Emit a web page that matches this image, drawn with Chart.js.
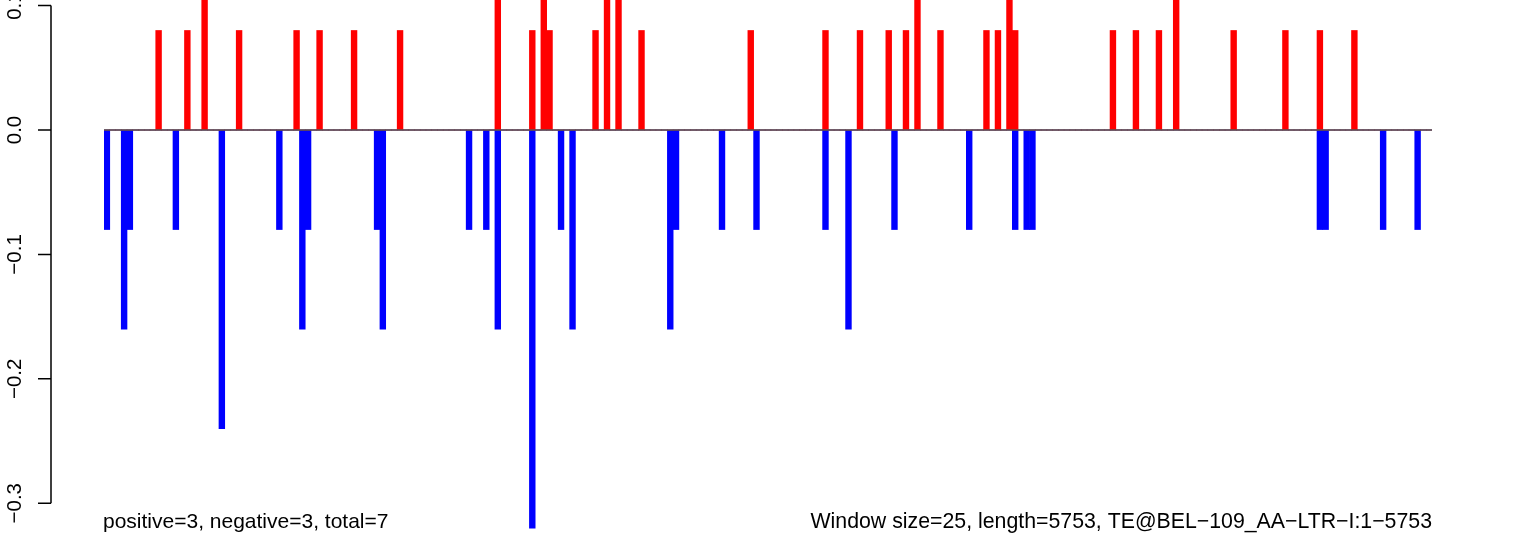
<!DOCTYPE html>
<html>
<head>
<meta charset="utf-8">
<script src="https://cdn.jsdelivr.net/npm/chart.js@4.4.1/dist/chart.umd.min.js"></script>
<style>
html,body{margin:0;padding:0;background:#fff;}
canvas{display:block;}
</style>
</head>
<body>
<canvas id="c" width="1536" height="550"></canvas>
<script>
// ---- data (231 windows of size 25 over length 5753) ----
const windowSize = 25;
const seqLength = 5753;
const windowCount = 231;
const windowLabels = Array.from({length: windowCount}, (_, i) => String(i * windowSize + 1));

// positive scores per window (red)
const positiveValues = [
0,0,0,0,0,0,0,0,0,0.08, 0,0,0,0,0.08,0,0,0.16,0,0, 0,0,0,0.08,0,0,0,0,0,0,
0,0,0,0.08,0,0,0,0.08,0,0, 0,0,0,0.08,0,0,0,0,0,0, 0,0.08,0,0,0,0,0,0,0,0,
0,0,0,0,0,0,0,0,0.16,0, 0,0,0,0,0.08,0,0.16,0.08,0,0, 0,0,0,0,0,0.08,0,0.16,0,0.16,
0,0,0,0.08,0,0,0,0,0,0, 0,0,0,0,0,0,0,0,0,0, 0,0,0.08,0,0,0,0,0,0,0,
0,0,0,0,0,0.08,0,0,0,0, 0,0.08,0,0,0,0,0.08,0,0,0.08, 0,0.16,0,0,0,0.08,0,0,0,0,
0,0,0,0.08,0,0.08,0,0.16,0.08,0, 0,0,0,0,0,0,0,0,0,0, 0,0,0,0,0,0.08,0,0,0,0.08,
0,0,0,0.08,0,0,0.16,0,0,0, 0,0,0,0,0,0,0.08,0,0,0, 0,0,0,0,0,0.08,0,0,0,0,
0,0.08,0,0,0,0,0,0.08,0,0, 0,0,0,0,0,0,0,0,0,0, 0
];

// negative scores per window (blue)
const negativeValues = [
-0.08,0,0,-0.16,-0.08,0,0,0,0,0, 0,0,-0.08,0,0,0,0,0,0,0, -0.24,0,0,0,0,0,0,0,0,0,
-0.08,0,0,0,-0.16,-0.08,0,0,0,0, 0,0,0,0,0,0,0,-0.08,-0.16,0, 0,0,0,0,0,0,0,0,0,0,
0,0,0,-0.08,0,0,-0.08,0,-0.16,0, 0,0,0,0,-0.32,0,0,0,0,-0.08, 0,-0.16,0,0,0,0,0,0,0,0,
0,0,0,0,0,0,0,0,-0.16,-0.08, 0,0,0,0,0,0,0,-0.08,0,0, 0,0,0,-0.08,0,0,0,0,0,0,
0,0,0,0,0,-0.08,0,0,0,-0.16, 0,0,0,0,0,0,0,-0.08,0,0, 0,0,0,0,0,0,0,0,0,0,
-0.08,0,0,0,0,0,0,0,-0.08,0, -0.08,-0.08,0,0,0,0,0,0,0,0, 0,0,0,0,0,0,0,0,0,0,
0,0,0,0,0,0,0,0,0,0, 0,0,0,0,0,0,0,0,0,0, 0,0,0,0,0,0,0,0,0,0,
0,-0.08,-0.08,0,0,0,0,0,0,0, 0,0,-0.08,0,0,0,0,0,-0.08,0, 0,0,0
];

const yTickValues = [0.1, 0.0, -0.1, -0.2, -0.3];
const yTickLabels = ['0.1', '0.0', '\u22120.1', '\u22120.2', '\u22120.3'];

const countText = 'positive=3, negative=3, total=7';
const infoText = 'Window size=25, length=5753, TE@BEL\u2212109_AA\u2212LTR\u2212I:1\u22125753';

const FONT = '"Liberation Sans", Arial, Helvetica, sans-serif';

const decorPlugin = {
  id: 'decor',
  afterDatasetsDraw(chart) {
    const ctx = chart.ctx;
    const y = chart.scales.y;
    const area = chart.chartArea;
    ctx.save();
    // zero reference line
    const y0 = y.getPixelForValue(0);
    ctx.strokeStyle = '#555555';
    ctx.lineWidth = 1.5;
    ctx.beginPath();
    ctx.moveTo(area.left, y0);
    ctx.lineTo(area.right, y0);
    ctx.stroke();

    // detached R-style y axis
    const axisX = 51;
    const tickLen = 13;
    const yTop = y.getPixelForValue(yTickValues[0]);
    const yBot = y.getPixelForValue(yTickValues[yTickValues.length - 1]);
    ctx.strokeStyle = '#000';
    ctx.lineWidth = 1.5;
    ctx.beginPath();
    ctx.moveTo(axisX, yTop);
    ctx.lineTo(axisX, yBot);
    yTickValues.forEach(v => {
      const py = y.getPixelForValue(v);
      ctx.moveTo(axisX, py);
      ctx.lineTo(axisX - tickLen, py);
    });
    ctx.stroke();

    ctx.fillStyle = '#000';
    ctx.font = '20.5px ' + FONT;
    ctx.textAlign = 'center';
    ctx.textBaseline = 'alphabetic';
    yTickValues.forEach((v, i) => {
      const py = y.getPixelForValue(v);
      ctx.save();
      ctx.translate(21, py);
      ctx.rotate(-Math.PI / 2);
      ctx.fillText(yTickLabels[i], 0, 0);
      ctx.restore();
    });

    // bottom annotations
    ctx.font = '21px ' + FONT;
    ctx.textAlign = 'left';
    ctx.fillText(countText, 103, 528);
    ctx.font = '21.3px ' + FONT;
    ctx.textAlign = 'right';
    ctx.fillText(infoText, area.right, 528);
    ctx.restore();
  }
};

new Chart(document.getElementById('c'), {
  type: 'bar',
  data: {
    labels: windowLabels,
    datasets: [
      { label: 'positive', data: positiveValues, backgroundColor: '#ff0000', borderWidth: 0 },
      { label: 'negative', data: negativeValues, backgroundColor: '#0000ff', borderWidth: 0 }
    ]
  },
  options: {
    responsive: false,
    animation: false,
    devicePixelRatio: 1,
    grouped: false,
    barPercentage: 1,
    categoryPercentage: 1,
    layout: { padding: { left: 104, right: 104, top: 0, bottom: 20 } },
    plugins: { legend: { display: false }, tooltip: { enabled: false } },
    scales: {
      x: { type: 'category', display: false, offset: true, grid: { display: false } },
      y: { display: false, min: -0.3215, max: 0.1045 }
    }
  },
  plugins: [decorPlugin]
});
</script>
</body>
</html>
